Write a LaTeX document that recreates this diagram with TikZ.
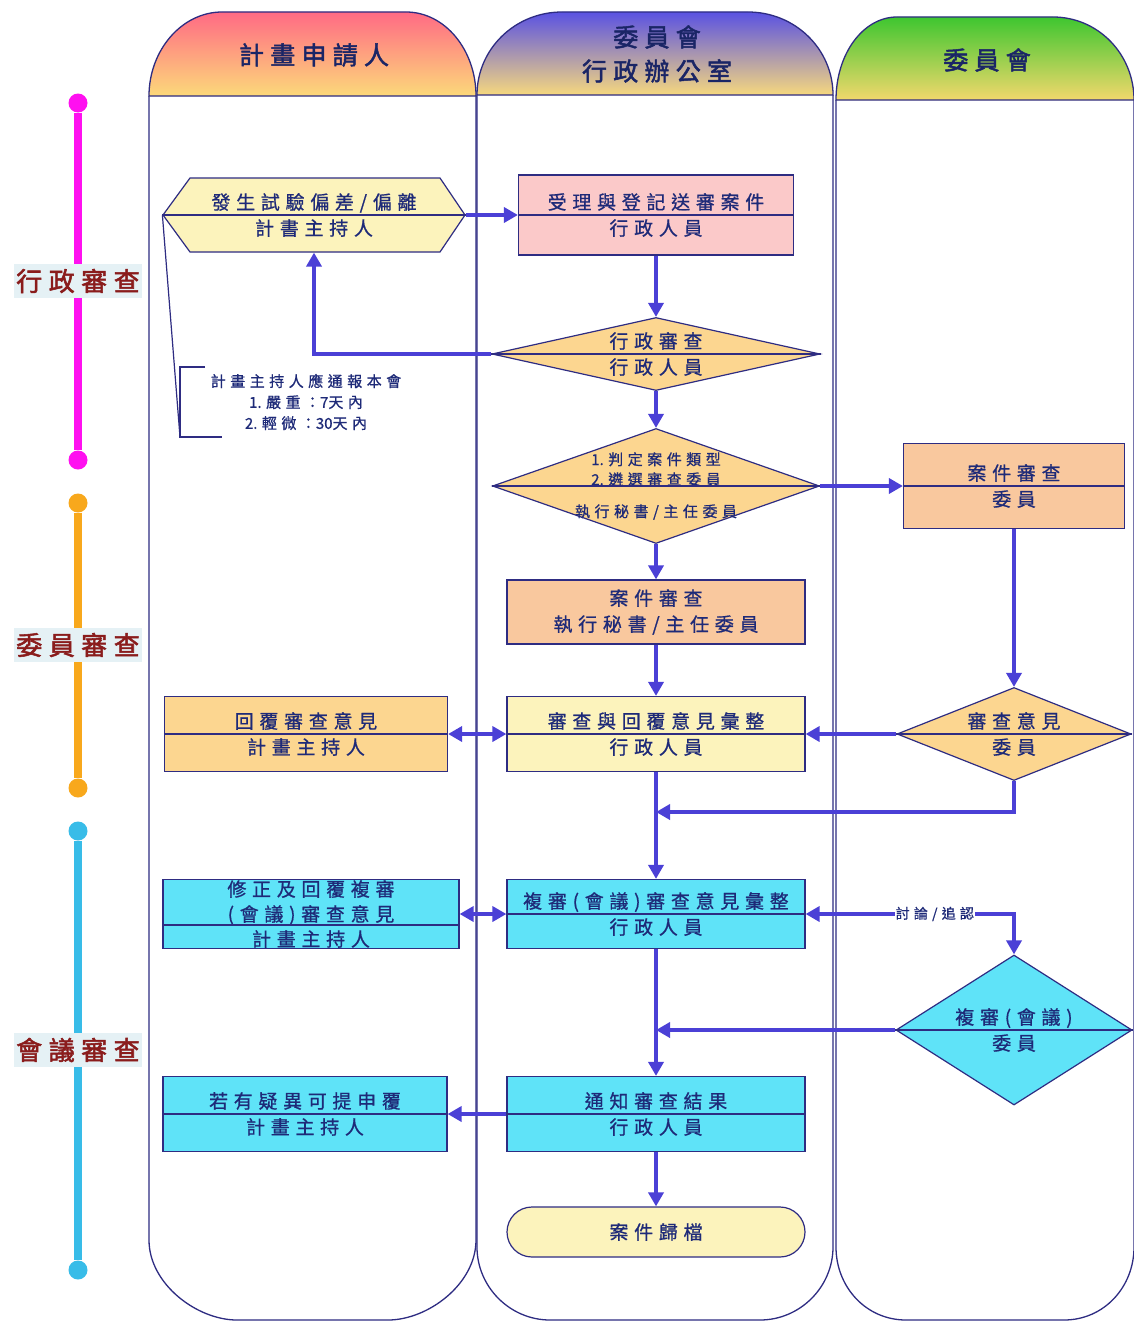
\documentclass[tikz,border=0pt]{standalone}
\usepackage{fontspec}
\setmainfont[LetterSpace=30,FakeBold=0.8]{Noto Sans CJK TC}
\newfontfamily\boldcjk[LetterSpace=25,FakeBold=2]{Noto Sans CJK TC}
\newfontfamily\latnfont[FakeBold=0.8]{Noto Sans CJK TC}
\newcommand\latn[1]{{\latnfont#1}}
\usetikzlibrary{arrows.meta,shapes.geometric,positioning}
\definecolor{laneline}{HTML}{2E2C82}
\definecolor{boxtext}{HTML}{1E2A78}
\definecolor{headtext}{HTML}{1A2566}
\definecolor{flowc}{HTML}{4B40D6}
\definecolor{hatop}{HTML}{FF6A84}
\definecolor{habot}{HTML}{FCD97A}
\definecolor{hbtop}{HTML}{5A52E2}
\definecolor{hbbot}{HTML}{F6D87E}
\definecolor{hctop}{HTML}{3EC630}
\definecolor{hcbot}{HTML}{F2D86C}
\definecolor{paleyel}{HTML}{FCF3BC}
\definecolor{pinkbox}{HTML}{FBC9C9}
\definecolor{orgbox}{HTML}{FCD690}
\definecolor{peachbox}{HTML}{F9C89E}
\definecolor{cyanbox}{HTML}{5FE3F8}
\definecolor{phasea}{HTML}{FF10F0}
\definecolor{phaseb}{HTML}{F8A81C}
\definecolor{phasec}{HTML}{38BCE8}
\definecolor{phasebg}{HTML}{E5F1F5}
\definecolor{phasetext}{HTML}{8A1C1C}
\tikzset{
  lane/.style={draw=laneline,line width=1.3pt},
  head/.style={text=headtext,align=center,font=\boldcjk\fontsize{25}{34}\selectfont},
  box/.style={draw=laneline,line width=1.2pt,rectangle,inner sep=0pt,text=boxtext,align=center,font=\fontsize{19}{26}\selectfont},
  dia/.style={draw=laneline,line width=1.2pt,diamond,inner sep=0pt},
  txt/.style={text=boxtext,align=center,font=\fontsize{19}{26}\selectfont},
  small/.style={text=boxtext,align=center,font=\fontsize{15}{21}\selectfont},
  split/.style={draw=laneline,line width=1.2pt},
  flow/.style={draw=flowc,line width=4pt,-{Triangle[length=14pt,width=15pt]}},
  both/.style={flow,{Triangle[length=14pt,width=15pt]}-{Triangle[length=14pt,width=15pt]}},
  phase/.style={line width=8pt},
  dot/.style={circle,inner sep=0pt,minimum size=19pt},
  phaselab/.style={fill=phasebg,text=phasetext,inner xsep=2pt,inner ysep=5pt,font=\boldcjk\fontsize{26}{30}\selectfont},
}
\begin{document}
\begin{tikzpicture}[x=1pt,y=-1pt]
  \useasboundingbox[fill=white] (0,0) rectangle (1134,1322);
  % swimlanes
  \draw[lane,fill=white] (149,96) -- (149,1240) .. controls (149,1284) and (197,1320) .. (237,1320) -- (388,1320) .. controls (428,1320) and (476,1284) .. (476,1240) -- (476,96);
  \shadedraw[lane,top color=hatop,bottom color=habot] (149,96) .. controls (149,50) and (182,12) .. (222,12) -- (406,12) .. controls (445,12) and (476,50) .. (476,96) -- cycle;
  \draw[lane,fill=white] (477,95) -- (477,1247) .. controls (477,1287) and (510,1320) .. (550,1320) -- (760,1320) .. controls (800,1320) and (833,1287) .. (833,1247) -- (833,95);
  \shadedraw[lane,top color=hbtop,bottom color=hbbot] (477,95) .. controls (477,49) and (515,12) .. (562,12) -- (748,12) .. controls (795,12) and (833,49) .. (833,95) -- cycle;
  \draw[lane,fill=white] (836,100) -- (836,1247) .. controls (836,1287) and (866,1320) .. (906,1320) -- (1064,1320) .. controls (1104,1320) and (1134,1287) .. (1134,1247) -- (1134,100);
  \shadedraw[lane,top color=hctop,bottom color=hcbot] (836,100) .. controls (836,54) and (863,17) .. (897,17) -- (1053,17) .. controls (1098,17) and (1134,54) .. (1134,100) -- cycle;
  \node[head] (h1) at (314,55) {計畫申請人};
  \node[head] (h2) at (657,54) {委員會\\行政辦公室};
  \node[head] (h3) at (987,60) {委員會};

  % phases
  \node[dot,fill=phasea] (p1a) at (78,103) {};
  \node[dot,fill=phasea] (p1b) at (78,460) {};
  \node[dot,fill=phaseb] (p2a) at (78,503) {};
  \node[dot,fill=phaseb] (p2b) at (78,788) {};
  \node[dot,fill=phasec] (p3a) at (78,831) {};
  \node[dot,fill=phasec] (p3b) at (78,1270) {};
  \draw[phase,phasea] (p1a) -- (p1b);
  \draw[phase,phaseb] (p2a) -- (p2b);
  \draw[phase,phasec] (p3a) -- (p3b);
  \node[phaselab] (ph1) at (78,281) {行政審查};
  \node[phaselab] (ph2) at (78,645) {委員審查};
  \node[phaselab] (ph3) at (78,1050) {會議審查};

  % boxes
  \filldraw[split,fill=paleyel] (163,215) -- (190,178) -- (440,178) -- (465,215) -- (440,252) -- (190,252) -- cycle;
  \node[box,draw=none,minimum width=302pt,minimum height=74pt] (hex) at (314,215) {發生試驗偏差/偏離\\計書主持人};
  \node[box,fill=pinkbox,minimum width=275pt,minimum height=80pt] (r2) at (656,215) {受理與登記送審案件\\行政人員};
  \node[dia,fill=orgbox,minimum width=328pt,minimum height=73pt,label={[txt]center:{行政審查\\行政人員}}] (d3) at (656,354) {};
  \node[dia,fill=orgbox,minimum width=327pt,minimum height=115pt,label={[small,font=\fontsize{15}{20}\selectfont]center:{\latn{1. }判定案件類型\\\latn{2. }遴選審查委員\\[12pt]執行秘書/主任委員}}] (d4) at (656,486) {};
  \node[box,fill=peachbox,minimum width=221pt,minimum height=85pt] (r5) at (1014,486) {案件審查\\委員};
  \node[box,fill=peachbox,minimum width=298pt,minimum height=64pt] (r6) at (656,612) {案件審查\\執行秘書/主任委員};
  \node[box,fill=paleyel,minimum width=298pt,minimum height=75pt] (r7) at (656,734) {審查與回覆意見彙整\\行政人員};
  \node[box,fill=orgbox,minimum width=283pt,minimum height=75pt] (r8) at (306,734) {回覆審查意見\\計畫主持人};
  \node[dia,fill=orgbox,minimum width=234pt,minimum height=93pt,label={[txt]center:{審查意見\\委員}}] (d9) at (1014,734) {};
  \node[box,fill=cyanbox,minimum width=296pt,minimum height=69pt,font=\fontsize{19}{25}\selectfont] (r10) at (311,914) {修正及回覆複審\\(會議)審查意見\\計畫主持人};
  \node[box,fill=cyanbox,minimum width=298pt,minimum height=69pt] (r11) at (656,914) {複審(會議)審查意見彙整\\行政人員};
  \node[dia,fill=cyanbox,minimum width=236pt,minimum height=150pt,label={[txt]center:{複審(會議)\\委員}}] (d12) at (1014,1030) {};
  \node[box,fill=cyanbox,minimum width=284pt,minimum height=75pt] (r13) at (305,1114) {若有疑異可提申覆\\計畫主持人};
  \node[box,fill=cyanbox,minimum width=298pt,minimum height=75pt] (r14) at (656,1114) {通知審查結果\\行政人員};
  \node[box,fill=paleyel,rounded corners=25pt,minimum width=298pt,minimum height=50pt] (end) at (656,1232) {案件歸檔};
  \foreach \n in {hex,r2,d3,d4,r5,r7,r8,d9,r11,d12,r13,r14}
    \draw[split] (\n.west) -- (\n.east);
  \draw[split] ([yshift=-11pt]r10.west) -- ([yshift=-11pt]r10.east);

  % note on the deviation
  \coordinate (brtop) at (180,367);
  \coordinate (brbot) at (180,437);
  \draw[split] (hex.west) -- (brbot);
  \draw[split] ([xshift=25pt]brtop) -- (brtop) -- (brbot) -- ([xshift=42pt]brbot);
  \node[small] (note) at (306,402) {計畫主持人應通報本會\\\latn{1. }嚴重：\latn{7}天內\\\latn{2. }輕微：\latn{30}天內};

  % flow
  \draw[flow] (hex.east) -- (r2.west);
  \draw[flow] (r2.south) -- (d3.north);
  \draw[flow] (d3.west) -| (hex.south);
  \draw[flow] (d3.south) -- (d4.north);
  \draw[flow] (d4.east) -- (r5.west);
  \draw[flow] (d4.south) -- (r6.north);
  \draw[flow] (r6.south) -- (r7.north);
  \draw[flow] (r5.south) -- (d9.north);
  \draw[flow] (d9.west) -- (r7.east);
  \draw[both] (r8.east) -- (r7.west);
  \coordinate (j1) at (656,812);
  \draw[flow] (d9.south) |- (j1);
  \draw[flow] (r7.south) -- (r11.north);
  \draw[both] (r10.east) -- (r11.west);
  \draw[both] (r11.east) -| node[pos=0.31,fill=white,inner sep=1pt,small,font=\fontsize{14}{16}\selectfont] (lab) {討論/追認} (d12.north);
  \coordinate (j2) at (656,1030);
  \draw[flow] (d12.west) -- (j2);
  \draw[flow] (r11.south) -- (r14.north);
  \draw[flow] (r14.west) -- (r13.east);
  \draw[flow] (r14.south) -- (end.north);
\end{tikzpicture}
\end{document}
